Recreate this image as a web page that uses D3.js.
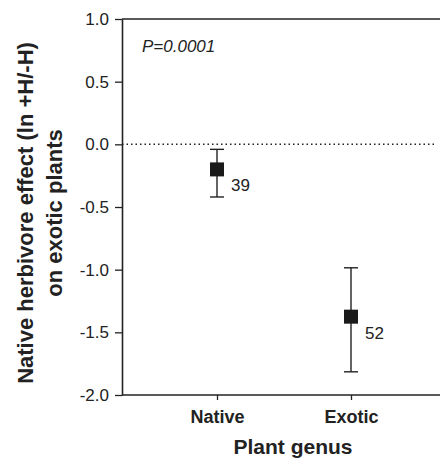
<!DOCTYPE html>
<html><head><meta charset="utf-8">
<script src="https://cdn.jsdelivr.net/npm/d3@7"></script>
<style>body{margin:0;background:#fff}svg{display:block;font-family:"Liberation Sans",Arial,sans-serif}</style>
</head><body>
<svg id="c" width="440" height="458"></svg>
<script>
const categories = ["Native", "Exotic"];
const means = [-0.2, -1.375];
const upper = [-0.04, -0.985];
const lower = [-0.42, -1.815];
const counts = ["39", "52"];
const yTicks = [1.0, 0.5, 0.0, -0.5, -1.0, -1.5, -2.0];

const svg = d3.select("#c");
const mLeft = 122, mRight = 440, mTop = 19, mBottom = 395;
const y = d3.scaleLinear().domain([-2, 1]).range([mBottom, mTop]);
const x = d3.scalePoint().domain(categories).range([217, 351]);
const ink = "#222";
const fam = "Liberation Sans, Arial, sans-serif";

// top border
svg.append("line").attr("x1", mLeft).attr("x2", mRight).attr("y1", mTop).attr("y2", mTop)
  .attr("stroke", ink).attr("stroke-width", 1.6);

// y axis
const ya = svg.append("g").attr("transform", `translate(${mLeft},0)`)
  .call(d3.axisLeft(y).tickValues(yTicks).tickSize(7).tickSizeOuter(0)
    .tickFormat(d => d3.format(".1f")(d).replace("\u2212", "-")));
ya.select(".domain").attr("stroke", ink).attr("stroke-width", 1.6);
ya.selectAll(".tick line").attr("stroke", ink).attr("stroke-width", 1.3);
ya.selectAll("text").attr("font-size", 17).attr("fill", ink).attr("x", -13)
  .attr("font-family", fam);

// x axis
const xa = svg.append("g").attr("transform", `translate(0,${mBottom})`)
  .call(d3.axisBottom(x).tickSize(5).tickSizeOuter(0));
xa.select(".domain").attr("d", `M${mLeft},0H${mRight}`).attr("stroke", ink).attr("stroke-width", 1.6);
xa.selectAll(".tick line").attr("stroke", ink).attr("stroke-width", 1.3);
xa.selectAll("text").attr("font-size", 18).attr("font-weight", "bold").attr("fill", ink)
  .attr("y", 28).attr("dy", 0).attr("font-family", fam);

// zero line
svg.append("line").attr("x1", mLeft).attr("x2", 437).attr("y1", y(0)).attr("y2", y(0))
  .attr("stroke", ink).attr("stroke-width", 1.5).attr("stroke-dasharray", "1.5,3");

// error bars
const g = svg.append("g");
categories.forEach((c, i) => {
  const cx = x(c);
  g.append("line").attr("x1", cx).attr("x2", cx).attr("y1", y(upper[i])).attr("y2", y(lower[i]))
    .attr("stroke", ink).attr("stroke-width", 1.4);
  [upper[i], lower[i]].forEach(v => {
    g.append("line").attr("x1", cx - 7).attr("x2", cx + 7).attr("y1", y(v)).attr("y2", y(v))
      .attr("stroke", ink).attr("stroke-width", 1.4);
  });
  g.append("rect").attr("x", cx - 7).attr("y", y(means[i]) - 7).attr("width", 14).attr("height", 14)
    .attr("fill", "#1a1a1a");
  g.append("text").attr("x", cx + 14).attr("y", y(means[i]) + 22).attr("font-size", 17)
    .attr("font-family", fam).attr("fill", ink).text(counts[i]);
});

// P value
svg.append("text").attr("x", 142).attr("y", 52).attr("font-size", 17).attr("font-style", "italic")
  .attr("font-family", fam).attr("fill", ink).text("P=0.0001");

// y title
const yt = svg.append("text").attr("transform", `translate(0,213) rotate(-90)`)
  .attr("text-anchor", "middle").attr("font-size", 22).attr("font-weight", "bold")
  .attr("font-family", fam).attr("fill", ink);
yt.append("tspan").attr("x", 0).attr("y", 33).text("Native herbivore effect (ln +H/-H)");
yt.append("tspan").attr("x", 0).attr("y", 62).text("on exotic plants");

// x title
svg.append("text").attr("x", 293).attr("y", 454).attr("text-anchor", "middle").attr("font-size", 21)
  .attr("font-weight", "bold").attr("font-family", fam).attr("fill", ink).text("Plant genus");
</script>
</body></html>
